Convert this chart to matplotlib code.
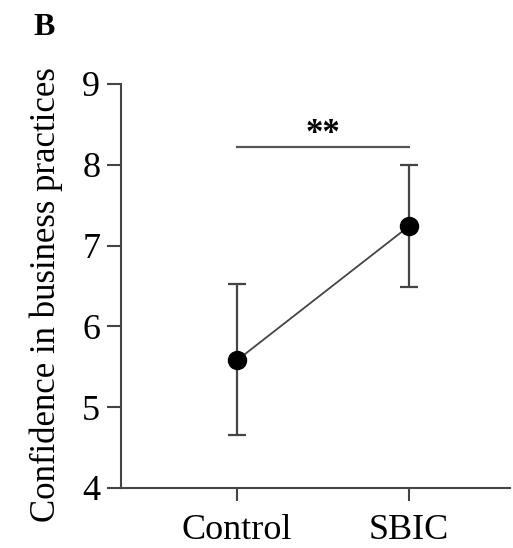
import matplotlib
matplotlib.use("Agg")
import matplotlib.pyplot as plt

groups = ["Control", "SBIC"]
means = [5.58, 7.24]
upper = [6.52, 8.00]
lower = [4.66, 6.49]
yticks = [4, 5, 6, 7, 8, 9]
sig_label = "**"
sig_y = 8.22

plt.rcParams['font.family'] = ['Liberation Serif', 'DejaVu Serif']

fig = plt.figure(figsize=(5.13, 5.48), dpi=100)
ax = fig.add_axes([121/513, 1-488/548, (510-121)/513, (488-84)/548])

x = list(range(len(groups)))
yerr = [[m - l for m, l in zip(means, lower)], [u - m for m, u in zip(means, upper)]]
ax.errorbar(x, means, yerr=yerr, fmt='none', ecolor='#444444', elinewidth=1.6,
            capsize=6.5, capthick=1.6, zorder=2)
ax.plot(x, means, color='#444444', lw=1.3, zorder=3)
ax.plot(x, means, 'o', color='black', ms=13, zorder=4)

ax.plot([x[0], x[1]], [sig_y, sig_y], color='#555555', lw=1.6, clip_on=False)
ax.text((x[0] + x[1]) / 2, sig_y - 0.05, sig_label, ha='center', va='bottom', fontsize=25, fontweight='bold')

ax.set_xlim(-0.674, 1.587)
ax.set_ylim(4, 9)
ax.set_yticks(yticks)
ax.set_xticks(x)
ax.set_xticklabels(groups, fontsize=26)
ax.tick_params(axis='y', labelsize=26, length=10, width=1.5, color='#444444', pad=5)
ax.tick_params(axis='x', length=9, width=1.5, color='#444444', pad=10)
for s in ['top', 'right']:
    ax.spines[s].set_visible(False)
for s in ['left', 'bottom']:
    ax.spines[s].set_linewidth(1.5)
    ax.spines[s].set_color('#444444')
ax.set_ylabel("Confidence in business practices", fontsize=25)
ax.yaxis.set_label_coords(-0.15, 0.478)

fig.text(33/513, 1-35/548, "B", fontsize=23, fontweight='bold', ha='left', va='baseline')

fig.savefig("out.png", dpi=100)
